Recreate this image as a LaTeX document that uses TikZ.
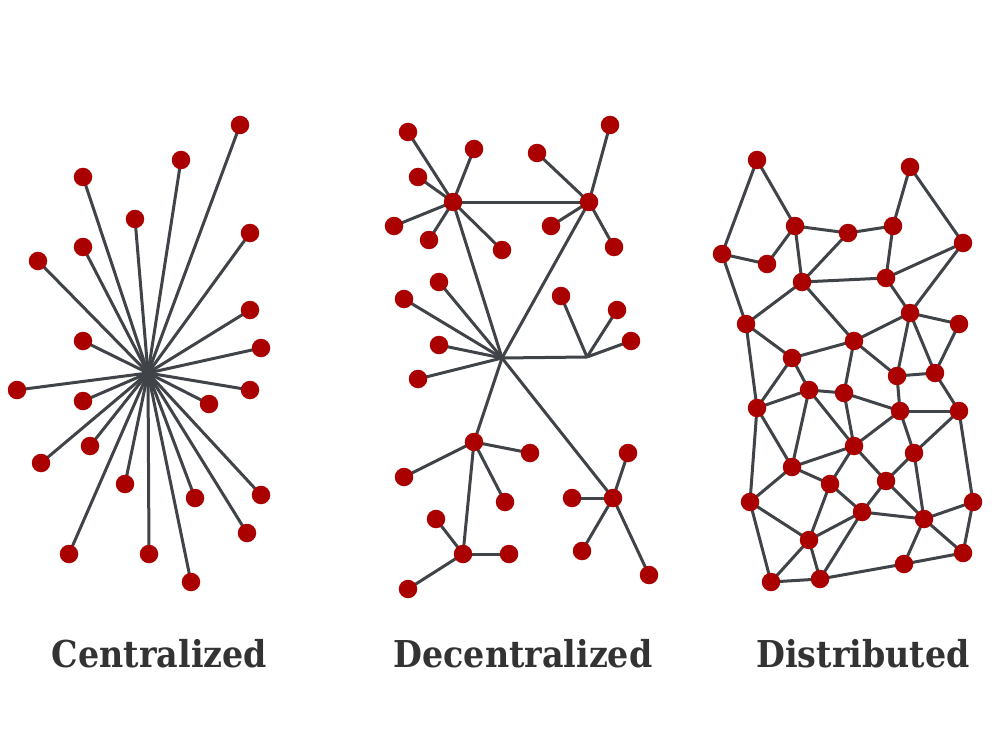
\documentclass[tikz,border=0pt]{standalone}
\usepackage{fontspec}
\newfontfamily\labelfont{DejaVu Serif}
\usetikzlibrary{backgrounds}
\definecolor{dotred}{HTML}{AA0000}
\definecolor{edgegray}{HTML}{404448}
\definecolor{textgray}{HTML}{333333}
\tikzset{
  dot/.style={circle, fill=dotred, minimum size=18.5pt, inner sep=0pt},
  edge/.style={draw=edgegray, line width=3pt},
  caption/.style={font=\labelfont\bfseries\fontsize{37}{40}\selectfont, text=textgray, anchor=base, inner sep=0pt, xscale=0.9}
}
\begin{document}
\begin{tikzpicture}[x=1pt, y=-1pt]
\useasboundingbox (0,0) rectangle (999,749);

% ---------- Centralized ----------
\coordinate (c0) at (148,373);
\foreach \x/\y [count=\i] in {240/125,181/160,83/177,135/219,250/233,83/247,38/261,250/310,83/341,261/348,17/390,250/390,83/401,209/404,90/446,41/463,125/484,195/498,261/495,247/533,69/554,149/554,191/582}
  \node[dot] (c\i) at (\x,\y) {};

% ---------- Decentralized ----------
\node[dot] (A) at (453,202) {};
\node[dot] (B) at (589,202) {};
\coordinate (C) at (502,358);
\coordinate (J) at (587,357);
\node[dot] (D) at (474,442) {};
\node[dot] (E) at (463,554) {};
\node[dot] (F) at (613,498) {};
\foreach \x/\y [count=\i] in {408/132,474/149,418/177,394/226,429/240,502/250}
  \node[dot] (a\i) at (\x,\y) {};
\foreach \x/\y [count=\i] in {610/125,537/153,551/226,614/247}
  \node[dot] (b\i) at (\x,\y) {};
\foreach \x/\y [count=\i] in {439/282,404/299,439/345,418/379}
  \node[dot] (k\i) at (\x,\y) {};
\foreach \x/\y [count=\i] in {561/296,617/310,631/341}
  \node[dot] (j\i) at (\x,\y) {};
\foreach \x/\y [count=\i] in {530/453,404/477,505/502}
  \node[dot] (dd\i) at (\x,\y) {};
\foreach \x/\y [count=\i] in {436/519,509/554,408/589}
  \node[dot] (e\i) at (\x,\y) {};
\foreach \x/\y [count=\i] in {628/453,572/498,582/551,649/575}
  \node[dot] (f\i) at (\x,\y) {};

% ---------- Distributed ----------
\node[dot] (p1) at (757,160) {};
\node[dot] (p2) at (910,167) {};
\node[dot] (p3) at (795,226) {};
\node[dot] (p4) at (848,233) {};
\node[dot] (p5) at (893,226) {};
\node[dot] (p6) at (722,254) {};
\node[dot] (p7) at (767,264) {};
\node[dot] (p8) at (963,243) {};
\node[dot] (p9) at (802,282) {};
\node[dot] (p10) at (886,278) {};
\node[dot] (p11) at (746,324) {};
\node[dot] (p12) at (910,313) {};
\node[dot] (p13) at (959,324) {};
\node[dot] (p14) at (854,341) {};
\node[dot] (p15) at (792,358) {};
\node[dot] (q1) at (897,376) {};
\node[dot] (q2) at (935,373) {};
\node[dot] (q3) at (809,390) {};
\node[dot] (q4) at (844,393) {};
\node[dot] (q5) at (757,408) {};
\node[dot] (q6) at (900,411) {};
\node[dot] (q7) at (959,411) {};
\node[dot] (q8) at (854,446) {};
\node[dot] (q9) at (914,453) {};
\node[dot] (q10) at (792,467) {};
\node[dot] (q11) at (830,484) {};
\node[dot] (q12) at (886,481) {};
\node[dot] (q13) at (750,502) {};
\node[dot] (q14) at (862,512) {};
\node[dot] (q15) at (924,519) {};
\node[dot] (q16) at (973,502) {};
\node[dot] (q17) at (809,540) {};
\node[dot] (q18) at (963,553) {};
\node[dot] (q19) at (904,564) {};
\node[dot] (q20) at (771,582) {};
\node[dot] (q21) at (820,579) {};

% ---------- Captions ----------
\node[caption] (t1) at (159.5,667) {Centralized};
\node[caption] (t2) at (523,667) {Decentralized};
\node[caption] (t3) at (863,667) {Distributed};

% ---------- Connectors (under the dots) ----------
\begin{pgfonlayer}{background}
\fill[white] (0,0) rectangle (999,749);
\foreach \i in {1,...,23}
  \draw[edge] (c0) -- (c\i.center);
\foreach \i in {1,...,6} \draw[edge] (A.center) -- (a\i.center);
\foreach \i in {1,...,4} \draw[edge] (B.center) -- (b\i.center);
\foreach \i in {1,...,4} \draw[edge] (C) -- (k\i.center);
\foreach \i in {1,...,3} \draw[edge] (J) -- (j\i.center);
\foreach \i in {1,...,3} \draw[edge] (D.center) -- (dd\i.center);
\foreach \i in {1,...,3} \draw[edge] (E.center) -- (e\i.center);
\foreach \i in {1,...,4} \draw[edge] (F.center) -- (f\i.center);
\draw[edge] (A.center) -- (B.center);
\draw[edge] (C) -- (A.center);
\draw[edge] (C) -- (B.center);
\draw[edge] (C) -- (J);
\draw[edge] (C) -- (D.center);
\draw[edge] (D.center) -- (E.center);
\draw[edge] (C) -- (F.center);
\foreach \u/\v in {p1/p6,p1/p3,p2/p5,p2/p8,p3/p4,p4/p5,p6/p7,p7/p3,p3/p9,p4/p9,p9/p10,p5/p10,p10/p8,p6/p11,p11/p9,p10/p12,p8/p12,p9/p14,p12/p13,p11/p15,p15/p14,p12/p14,p11/q5,p15/q5,p15/q3,p14/q4,p14/q1,p12/q1,p12/q2,p13/q2,q1/q2,q1/q6,q2/q7,q3/q4,q3/q5,q4/q6,q5/q13,q5/q10,q3/q10,q3/q8,q4/q8,q6/q8,q6/q7,q6/q9,q7/q9,q7/q16,q8/q10,q8/q11,q8/q12,q9/q12,q9/q15,q10/q11,q10/q13,q11/q17,q14/q17,q11/q14,q12/q14,q12/q15,q14/q15,q15/q16,q15/q18,q15/q19,q16/q18,q18/q19,q19/q21,q13/q17,q13/q20,q17/q20,q17/q21,q14/q21,q20/q21}
  \draw[edge] (\u.center) -- (\v.center);
\end{pgfonlayer}
\end{tikzpicture}
\end{document}
